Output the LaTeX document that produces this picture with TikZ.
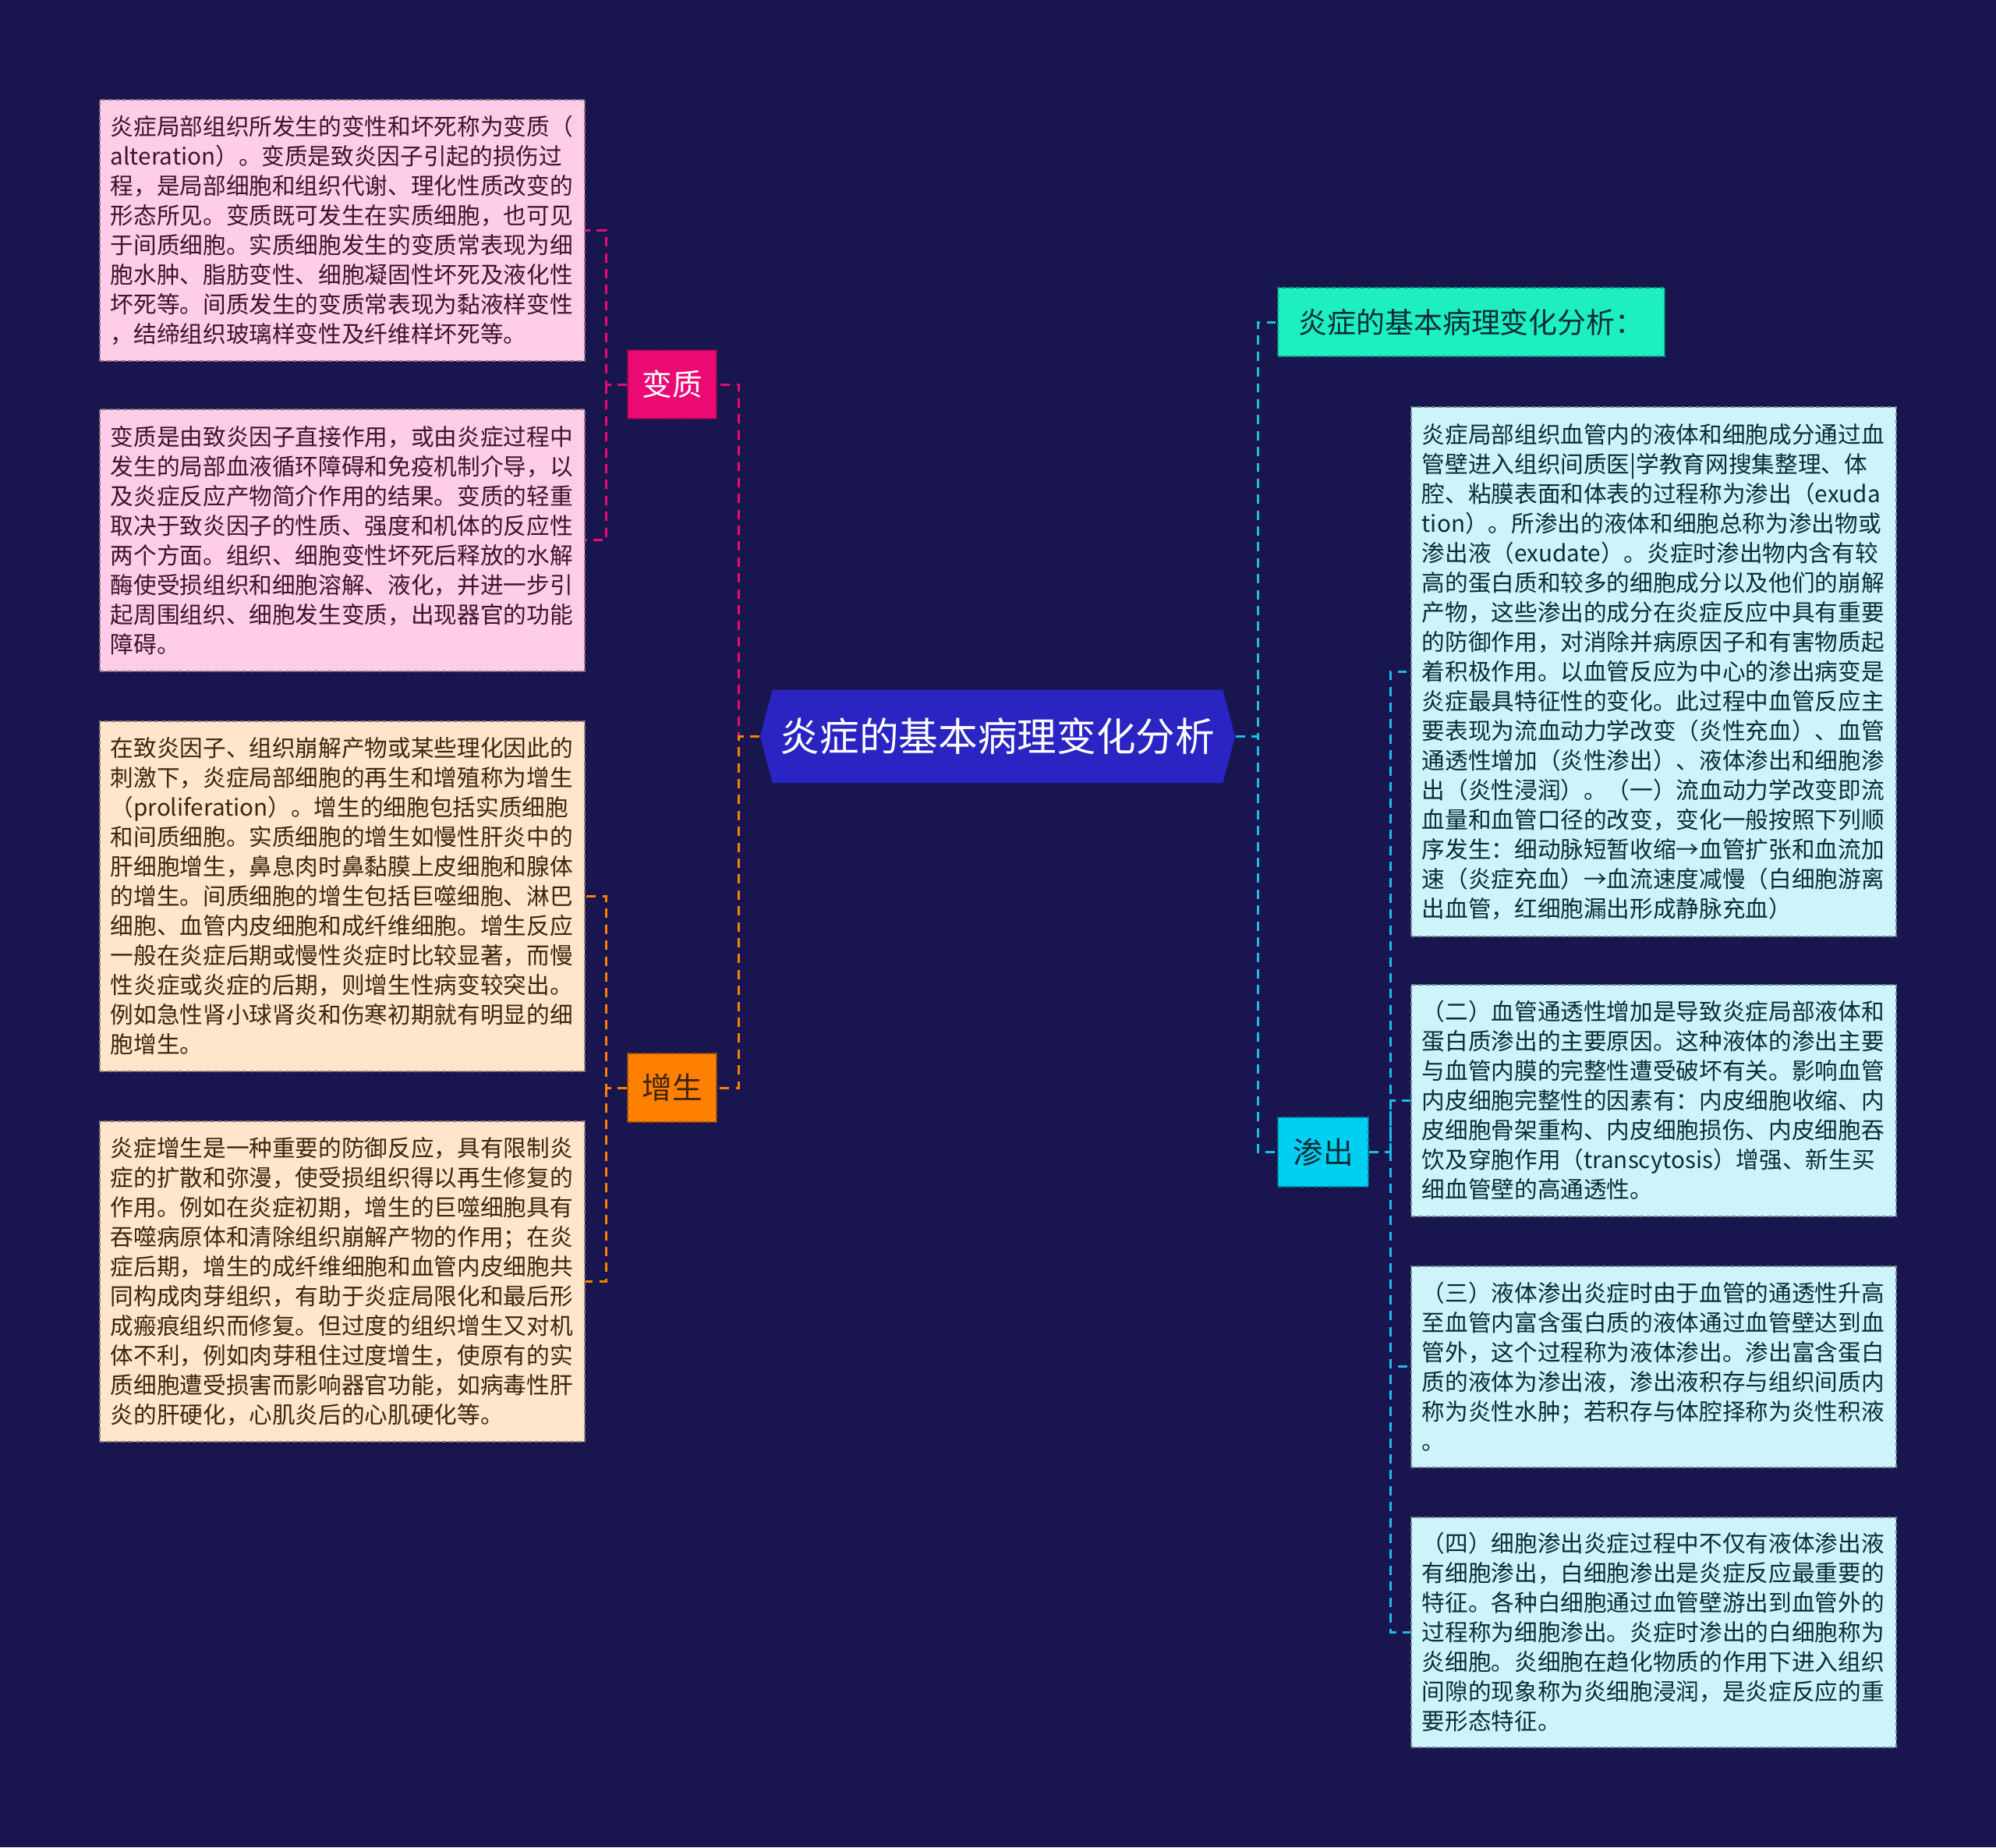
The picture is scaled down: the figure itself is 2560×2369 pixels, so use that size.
\documentclass[tikz,border=0pt]{standalone}
\usepackage{fontspec}
\setmainfont{Noto Sans CJK SC}
\usetikzlibrary{shapes.symbols}

\definecolor{bgnavy}{HTML}{19164F}
\definecolor{rootblue}{HTML}{2A24C2}
\definecolor{magfill}{HTML}{EB0A73}
\definecolor{orgfill}{HTML}{FF7F00}
\definecolor{mintfill}{HTML}{1DEFC0}
\definecolor{cyanfill}{HTML}{00CFF4}
\definecolor{pinkfill}{HTML}{FFCDE5}
\definecolor{peachfill}{HTML}{FFE5CC}
\definecolor{icefill}{HTML}{CDF4FB}
\definecolor{pinktext}{HTML}{3C1428}
\definecolor{peachtext}{HTML}{3C2410}
\definecolor{icetext}{HTML}{0C2C34}
\definecolor{mintline}{HTML}{1BC7B8}
\definecolor{cyanline}{HTML}{18BDE8}

\begin{document}
\begin{tikzpicture}[x=0.01cm,y=-0.01cm,
	link/.style={draw=#1,line width=0.85pt,dash pattern=on 3.4pt off 2.4pt},
	edge/.style={line width=0.45pt,dash pattern=on 1.6pt off 1pt},
	tag/.style={edge,inner sep=0pt,font=\fontsize{11}{13}\selectfont},
	notebox/.style={edge,anchor=north west,text width=5.94cm,inner xsep=0.14cm,inner ysep=0pt,align=left,font=\fontsize{8.43}{10.8}\selectfont},
	pinkbox/.style={notebox,fill=pinkfill,draw=pinkfill!55!black,text=pinktext},
	peachbox/.style={notebox,fill=peachfill,draw=peachfill!55!black,text=peachtext},
	icebox/.style={notebox,fill=icefill,draw=icefill!55!black,text=icetext}]
	\fill[bgnavy] (0,0) rectangle (2560,2369);
	\useasboundingbox (0,0) rectangle (2560,2369);
	
	\node[signal,signal to=west and east,signal pointer angle=150,fill=rootblue,text=white,inner sep=0pt,minimum width=6.09cm,minimum height=1.19cm,font=\fontsize{14.4}{17}\selectfont](root)at(1279.5,944.5) {炎症的基本病理变化分析};
	
	\node[tag,fill=magfill,draw=magfill!60!black,text=white,minimum width=1.14cm,minimum height=0.88cm](bz)at(862,493) {变质};
	\node[tag,fill=orgfill,draw=orgfill!60!black,text=peachtext,minimum width=1.14cm,minimum height=0.88cm](zs)at(862,1395) {增生};
	\node[tag,fill=mintfill,draw=mintfill!60!black,text=icetext,minimum width=4.96cm,minimum height=0.88cm,font=\fontsize{10.5}{12.5}\selectfont](fx)at(1887,413) {炎症的基本病理变化分析：};
	\node[tag,fill=cyanfill,draw=cyanfill!60!black,text=icetext,minimum width=1.16cm,minimum height=0.89cm](sc)at(1697,1477.5) {渗出};
	
	\node[pinkbox,minimum height=3.35cm](l1)at(127,127) {炎症局部组织所发生的变性和坏死称为变质（\\
alteration）。变质是致炎因子引起的损伤过\\
程，是局部细胞和组织代谢、理化性质改变的\\
形态所见。变质既可发生在实质细胞，也可见\\
于间质细胞。实质细胞发生的变质常表现为细\\
胞水肿、脂肪变性、细胞凝固性坏死及液化性\\
坏死等。间质发生的变质常表现为黏液样变性\\
，结缔组织玻璃样变性及纤维样坏死等。};
	\node[pinkbox,minimum height=3.36cm](l2)at(127,524) {变质是由致炎因子直接作用，或由炎症过程中\\
发生的局部血液循环障碍和免疫机制介导，以\\
及炎症反应产物简介作用的结果。变质的轻重\\
取决于致炎因子的性质、强度和机体的反应性\\
两个方面。组织、细胞变性坏死后释放的水解\\
酶使受损组织和细胞溶解、液化，并进一步引\\
起周围组织、细胞发生变质，出现器官的功能\\
障碍。};
	\node[peachbox,minimum height=4.49cm](l3)at(127,924) {在致炎因子、组织崩解产物或某些理化因此的\\
刺激下，炎症局部细胞的再生和增殖称为增生\\
（proliferation）。增生的细胞包括实质细胞\\
和间质细胞。实质细胞的增生如慢性肝炎中的\\
肝细胞增生，鼻息肉时鼻黏膜上皮细胞和腺体\\
的增生。间质细胞的增生包括巨噬细胞、淋巴\\
细胞、血管内皮细胞和成纤维细胞。增生反应\\
一般在炎症后期或慢性炎症时比较显著，而慢\\
性炎症或炎症的后期，则增生性病变较突出。\\
例如急性肾小球肾炎和伤寒初期就有明显的细\\
胞增生。};
	\node[peachbox,minimum height=4.11cm](l4)at(127,1437) {炎症增生是一种重要的防御反应，具有限制炎\\
症的扩散和弥漫，使受损组织得以再生修复的\\
作用。例如在炎症初期，增生的巨噬细胞具有\\
吞噬病原体和清除组织崩解产物的作用；在炎\\
症后期，增生的成纤维细胞和血管内皮细胞共\\
同构成肉芽组织，有助于炎症局限化和最后形\\
成瘢痕组织而修复。但过度的组织增生又对机\\
体不利，例如肉芽租住过度增生，使原有的实\\
质细胞遭受损害而影响器官功能，如病毒性肝\\
炎的肝硬化，心肌炎后的心肌硬化等。};
	
	\node[icebox,minimum height=6.79cm](r1)at(1809,521) {炎症局部组织血管内的液体和细胞成分通过血\\
管壁进入组织间质医|学教育网搜集整理、体\\
腔、粘膜表面和体表的过程称为渗出（exuda\\
tion）。所渗出的液体和细胞总称为渗出物或\\
渗出液（exudate）。炎症时渗出物内含有较\\
高的蛋白质和较多的细胞成分以及他们的崩解\\
产物，这些渗出的成分在炎症反应中具有重要\\
的防御作用，对消除并病原因子和有害物质起\\
着积极作用。以血管反应为中心的渗出病变是\\
炎症最具特征性的变化。此过程中血管反应主\\
要表现为流血动力学改变（炎性充血）、血管\\
通透性增加（炎性渗出）、液体渗出和细胞渗\\
出（炎性浸润）。（一）流血动力学改变即流\\
血量和血管口径的改变，变化一般按照下列顺\\
序发生：细动脉短暂收缩→血管扩张和血流加\\
速（炎症充血）→血流速度减慢（白细胞游离\\
出血管，红细胞漏出形成静脉充血）};
	\node[icebox,minimum height=2.97cm](r2)at(1809,1262) {（二）血管通透性增加是导致炎症局部液体和\\
蛋白质渗出的主要原因。这种液体的渗出主要\\
与血管内膜的完整性遭受破坏有关。影响血管\\
内皮细胞完整性的因素有：内皮细胞收缩、内\\
皮细胞骨架重构、内皮细胞损伤、内皮细胞吞\\
饮及穿胞作用（transcytosis）增强、新生买\\
细血管壁的高通透性。};
	\node[icebox,minimum height=2.58cm](r3)at(1809,1623) {（三）液体渗出炎症时由于血管的通透性升高\\
至血管内富含蛋白质的液体通过血管壁达到血\\
管外，这个过程称为液体渗出。渗出富含蛋白\\
质的液体为渗出液，渗出液积存与组织间质内\\
称为炎性水肿；若积存与体腔择称为炎性积液\\
。};
	\node[icebox,minimum height=2.95cm](r4)at(1809,1945) {（四）细胞渗出炎症过程中不仅有液体渗出液\\
有细胞渗出，白细胞渗出是炎症反应最重要的\\
特征。各种白细胞通过血管壁游出到血管外的\\
过程称为细胞渗出。炎症时渗出的白细胞称为\\
炎细胞。炎细胞在趋化物质的作用下进入组织\\
间隙的现象称为炎细胞浸润，是炎症反应的重\\
要形态特征。};
	
	\coordinate (lj) at (947,944.5);
	\coordinate (rj) at (1613,944.5);
	\coordinate (bzj) at (777,493);
	\coordinate (zsj) at (777,1395);
	\coordinate (scj) at (1783,1477.5);
	
	\draw[link=magfill] (root.west) -- (lj) |- (bz.east);
	\draw[link=orgfill] (root.west) -- (lj) |- (zs.east);
	\draw[link=mintline] (root.east) -- (rj) |- (fx.west);
	\draw[link=cyanline] (root.east) -- (rj) |- (sc.west);
	\draw[link=magfill] (bz.west) -- (bzj) |- (l1.east) (bzj) |- (l2.east);
	\draw[link=orgfill] (zs.west) -- (zsj) |- (l3.east) (zsj) |- (l4.east);
	\draw[link=cyanline] (sc.east) -- (scj) |- (r1.west) (scj) |- (r2.west) (scj) |- (r3.west) (scj) |- (r4.west);
\end{tikzpicture}
\end{document}
